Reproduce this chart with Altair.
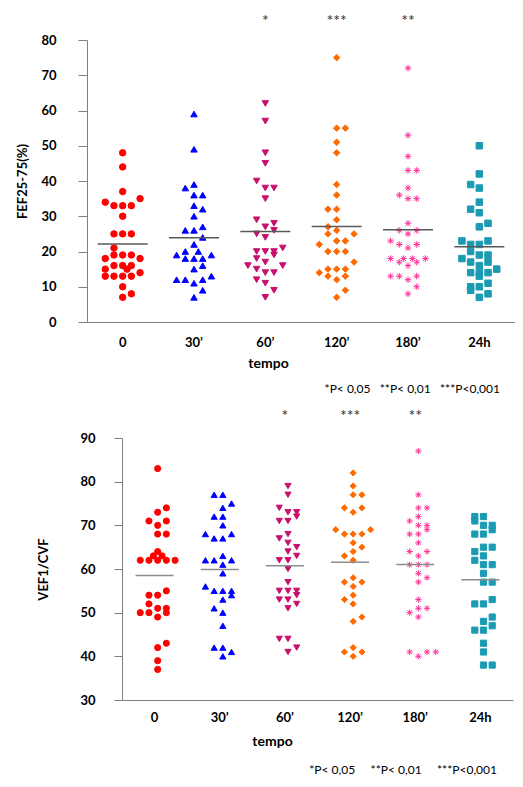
import altair as alt
import pandas as pd

categories = ["0", "30’", "60’", "120’", "180’", "24h"]
stars = ["", "", "*", "***", "**", ""]

# FEF25-75(%) values per time point, with horizontal slot (jitter column) of each dot
fef_vals = [
    [48, 44, 37, 35, 34, 33, 33, 33, 30, 25, 25, 25, 21, 19, 19, 19, 18, 18, 16, 16, 16, 15, 15, 14, 13, 13, 13, 13, 10, 8, 7],
    [59, 49, 39, 38, 36, 36, 33, 32, 30, 27, 26, 26, 24, 22, 20, 20, 19, 19, 18, 18, 18, 16, 15, 13, 12, 12, 12, 11, 9, 7],
    [62, 57, 48, 45, 40, 38, 38, 35, 29, 28, 27, 26, 25, 24, 21, 20, 20, 20, 19, 18, 17, 16, 16, 15, 14, 14, 12, 11, 9, 7],
    [75, 55, 55, 51, 48, 39, 36, 32, 32, 29, 27, 26, 25, 25, 23, 23, 22, 20, 20, 20, 17, 15, 15, 15, 14, 13, 13, 12, 9, 7],
    [72, 53, 47, 43, 43, 38, 36, 35, 35, 28, 26, 26, 25, 23, 22, 22, 21, 18, 18, 18, 18, 17, 17, 16, 13, 13, 13, 12, 10, 8],
    [50, 42, 39, 38, 34, 32, 31, 28, 27, 23, 23, 22, 22, 20, 19, 19, 18, 17, 17, 16, 15, 14, 14, 14, 13, 11, 10, 10, 9, 8, 7],
]
fef_slots = [
    [0, 0, 0, 2, -2, -1, 0, 1, 0, -1, 0, 1, -1, -1, 0, 1, -2, 2, -1, 0, 1, -2, 0.5, 2, -2, -1, 0, 1, 0, 1, 0],
    [0, 0, 0, -1, 0, 1, 0, 1, 0, 1, -1, 0, 1, 0, -1, 0.5, -2, 2, -1, 0, 1, 1, 0, 2, -2, -1, 1, 0, 1, 0],
    [0, 0, 0, 0, -1, 0, 1, 0, -1, 1, 0, 1, -1, 0, 2, -1, 0, 1, 1, -1, 0, -2, 2, -1, 0, 1, -1, 0, 1, 0],
    [0, 0, 1, 0, 0, 0, 0, -1, 0, 0, -1, 0, -1, 2, 0, 1, -2, -1, 0, 1, 2, -1, 0, 1, -2, -1, 1, 0, 1, 0],
    [0, 0, 0, 0, 1, 0, -1, 0, 1, 0, -1, 1, 0, -2, -1, 1, 0, -2, -0.5, 0.5, 2, -1, 1, 0, -2, -1, 1, 0, 1, 0],
    [0, 0, -1, 0, 0, -1, 0, 1, 0, -2, 1, -1, 0, -1, 0, 1, -2, -1, 1, 0, 2, -1, 0, 1, 0, 1, -1, 0, -1, 1, 0],
]

# VEF1/CVF values per time point
vef_vals = [
    [83, 74, 73, 71, 71, 70, 68, 68, 64, 63, 63, 62, 62, 62, 62, 62, 55, 54, 54, 52, 51, 51, 50, 50, 50, 49, 43, 42, 39, 37],
    [77, 77, 75, 74, 72, 72, 70, 68, 68, 67, 67, 63, 62, 62, 62, 61, 59, 56, 55, 55, 55, 54, 53, 51, 50, 47, 42, 42, 41, 40],
    [79, 77, 74, 73, 73, 72, 71, 71, 68, 67, 66, 65, 64, 63, 62, 62, 60, 57, 55, 55, 55, 54, 53, 53, 52, 51, 44, 44, 42, 41],
    [82, 79, 77, 77, 74, 74, 73, 69, 69, 68, 68, 68, 66, 65, 64, 63, 62, 58, 57, 57, 56, 54, 53, 52, 49, 48, 42, 41, 41, 40],
    [87, 77, 74, 74, 72, 71, 70, 70, 69, 68, 68, 66, 64, 64, 63, 61, 61, 61, 59, 58, 57, 53, 51, 51, 50, 49, 41, 41, 41, 40],
    [72, 72, 71, 70, 70, 69, 68, 68, 65, 65, 64, 63, 62, 61, 61, 59, 57, 57, 53, 52, 52, 49, 48, 47, 46, 46, 43, 41, 38, 38],
]
vef_slots = [
    [0, 1, 0, -1, 1, 0, 0, 1, 0, -0.5, 0.5, -2, -1, 0, 1, 2, 1, -1, 0, -1, 0, 1, -2, -1, 1, 0, 1, 0, 0, 0],
    [-1, 0, 1, 0, -1, 0, 0, -2, 1, -1, 0, 0, -2, -1, 1, 0, 0, -2, -1, 0, 1, 1, 0, -1, 0, 0, -1, 0, 1, 0],
    [0, 0, -1, 0, 1, 1, -1, 0, 0, -1, 0, 1, 0, 1, -1, 0, 0, 0, -1, 0, 1, 1, -1, 0, 1, 0, -1, 0, 1, 0],
    [0, 0, 0, 1, -1, 1, 0, -2, 2, -1, 0, 1, 0, 1, 0, -1, 0, 0, -1, 1, 0, 0, -1, 0, 1, 0, 0, -1, 1, 0],
    [0, 0, 0, 1, 0, -1, 0, 1, 1, -1, 0, 0, -1, 1, 0, -1, 0, 1, 0, 1, 0, 0, 0, 1, -1, 0, -1, 1, 2, 0],
    [-1, 0, -1, 0, 1, 1, -1, 0, 0, 1, -1, 0, -1, 0, 1, 0, 0, 1, 1, -1, 0, 1, 0, 1, -1, 0, 0, 0, 0, 1],
]

footnote_top = "*P<\u00a00,05\u00a0\u00a0\u00a0**P<\u00a00,01\u00a0\u00a0\u00a0***P<0,001"
footnote_bottom = "*P<\u00a00,05\u00a0\u00a0\u00a0\u00a0\u00a0**P<\u00a00,01\u00a0\u00a0\u00a0\u00a0\u00a0***P<0,001"

point_colors = ["#FF0000", "#0000FF", "#C8106E", "#FF6A00", "#FF3399", "#1A9BB2"]
asterisk = "M-1,0L1,0M0,-1L0,1M-0.72,-0.72L0.72,0.72M-0.72,0.72L0.72,-0.72"
point_shapes = ["circle", "triangle-up", "triangle-down", "diamond", asterisk, "square"]

FONT = "Lato"
AXIS_GREY = "#808080"


def make_df(vals, slots):
    rows = []
    for cat, vs, ss in zip(categories, vals, slots):
        for v, s in zip(vs, ss):
            rows.append({"tempo": cat, "val": v, "slot": s})
    return pd.DataFrame(rows)


star_df = pd.DataFrame({"tempo": categories, "star": stars})


def panel(df, ytitle, ydomain, yvalues, w, h, opts):
    sc = dict(domain=categories, paddingInner=0, paddingOuter=0)
    if opts.get("xrange"):
        sc["range"] = opts["xrange"]
    xscale = alt.Scale(**sc)
    xaxis = alt.Axis(
        title="tempo", labelAngle=0, ticks=False, tickSize=0,
        labelPadding=opts["xlabpad"], titlePadding=opts["xtitlepad"],
        titleX=opts["xtitlex"], domainColor=AXIS_GREY,
        labelFont=FONT, labelFontWeight="bold", labelFontSize=13, labelColor="#000",
        titleFont=FONT, titleFontWeight="bold", titleFontSize=14, titleColor="#000",
    )
    yaxis = alt.Axis(
        title=ytitle, values=yvalues, grid=False, tickSize=opts["ytick"],
        tickColor=AXIS_GREY, domainColor=AXIS_GREY, offset=opts["yoffset"],
        labelPadding=opts["ylabpad"], titlePadding=opts["ytitlepad"],
        labelFont=FONT, labelFontWeight="bold", labelFontSize=13, labelColor="#000",
        titleFont=FONT, titleFontWeight="bold", titleFontSize=13, titleColor="#000",
    )
    yscale = alt.Scale(domain=ydomain, nice=False, zero=False)
    base = alt.Chart(df)
    pts = base.mark_point(filled=True, opacity=1, strokeWidth=1).encode(
        x=alt.X("tempo:N", sort=categories, scale=xscale, axis=xaxis),
        xOffset=alt.XOffset("slot:Q", scale=alt.Scale(domain=[-4.1, 4.1])),
        y=alt.Y("val:Q", scale=yscale, axis=yaxis),
        color=alt.Color("tempo:N", scale=alt.Scale(domain=categories, range=point_colors), legend=None),
        stroke=alt.Stroke("tempo:N", scale=alt.Scale(domain=categories, range=point_colors), legend=None),
        shape=alt.Shape("tempo:N", scale=alt.Scale(domain=categories, range=point_shapes), legend=None),
        size=alt.value(opts["psize"]),
    )
    mean = base.mark_tick(color=opts["meancolor"], thickness=1.5, size=opts["meanw"]).encode(
        x=alt.X("tempo:N", sort=categories, scale=xscale, axis=xaxis),
        y=alt.Y("mean(val):Q", scale=yscale, axis=yaxis),
    )
    star = alt.Chart(star_df).mark_text(
        font=FONT, fontSize=16, color="#333333", baseline="middle", align="center"
    ).encode(
        x=alt.X("tempo:N", sort=categories, scale=xscale, axis=xaxis),
        y=alt.value(opts["stary"]),
        text="star:N",
    )
    return alt.layer(pts, mean, star).properties(
        width=w, height=h,
        title=alt.TitleParams(
            opts["foot"], orient="bottom", anchor="end", font=FONT, fontSize=12,
            fontWeight="normal", color="#000", dx=opts["footdx"], offset=opts["footoff"],
        ),
    )


top = panel(
    make_df(fef_vals, fef_slots), "FEF25-75(%)", [0, 80], list(range(0, 81, 10)), 428, 282,
    dict(xlabpad=14, xtitlepad=7, xtitlex=181, ytick=9, ylabpad=22, ytitlepad=11, yoffset=0,
         psize=42, meancolor="#595959", meanw=50, stary=-19, foot=footnote_top, footdx=-15, footoff=14),
)
bottom = panel(
    make_df(vef_vals, vef_slots), "VEF1/CVF", [30, 90], list(range(30, 91, 10)), 426, 262,
    dict(xrange=[35, 426], xlabpad=11, xtitlepad=10, xtitlex=185, ytick=8, ylabpad=19, ytitlepad=29,
         yoffset=-35, psize=38, meancolor="#8c8c8c", meanw=38, stary=-22, foot=footnote_bottom,
         footdx=-16, footoff=17),
)

chart = alt.concat(top, bottom, columns=1, spacing=13).properties(
    padding={"left": 8, "top": 5, "right": 0, "bottom": 0}
).configure_view(strokeWidth=0)

chart.save("out.html", embed_options={"renderer": "svg", "actions": False})
